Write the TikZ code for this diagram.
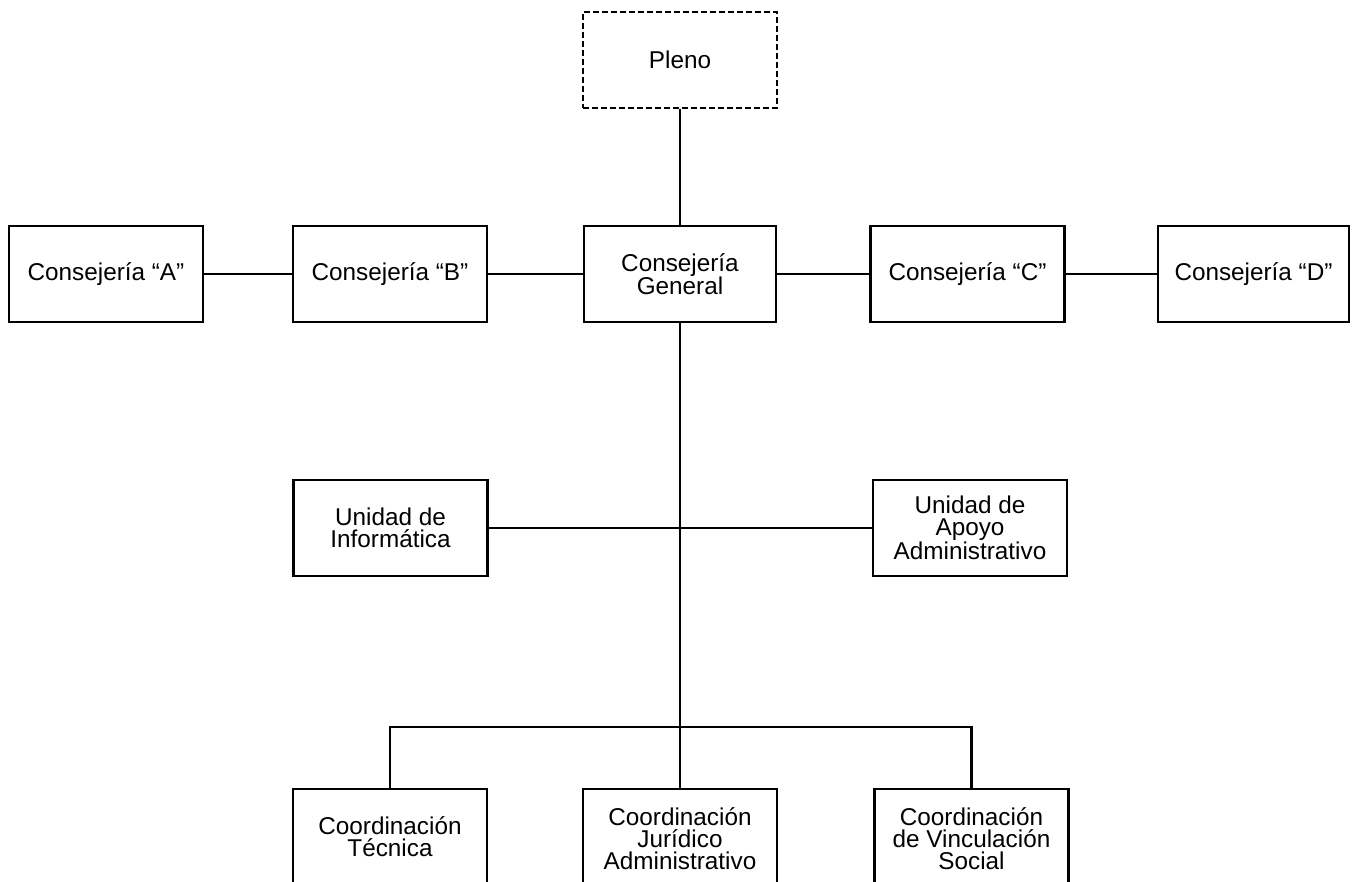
\documentclass[tikz,border=0pt]{standalone}
\usepackage{fontspec}
\setmainfont{Liberation Sans}
\begin{document}
\begin{tikzpicture}[x=1pt,y=-1pt,
  box/.style={draw, line width=2.2pt, minimum width=194pt, minimum height=96pt, inner sep=0pt, align=center, font=\fontsize{24.3}{22}\selectfont},
  tall/.style={box, minimum height=222pt},
  lbl/.style={align=center, inner sep=0pt, font=\fontsize{24.3}{22}\selectfont},
  conn/.style={line width=2.2pt}]
\useasboundingbox (0,0) rectangle (1353,882);
\clip (0,0) rectangle (1353,882);
% top
\node[box, dash pattern=on 6pt off 3pt] (pleno) at (680,60) {Pleno};
% row 1
\node[box] (ca) at (106,274) {Consejería “A”};
\node[box] (cb) at (390,274) {Consejería “B”};
\node[box, minimum width=192pt] (cg) at (680,274) {Consejería\\General};
\node[box] (cc) at (967.5,274) {Consejería “C”};
\node[box, minimum width=191pt] (cd) at (1253.5,274) {Consejería “D”};
% row 2
\node[box] (ui) at (390.5,528) {Unidad de\\Informática};
\node[box] (ua) at (970,528) {Unidad de\\Apoyo\\Administrativo};
% row 3 (cut off at bottom)
\node[tall] (ct) at (390,900) {};
\node[tall] (cj) at (680,900) {};
\node[tall] (cv) at (971.5,900) {};
\node[lbl] (tct) at (390,837) {Coordinación\\Técnica};
\node[lbl] (tcj) at (680,839) {Coordinación\\Jurídico\\Administrativo};
\node[lbl] (tcv) at (971.5,839) {Coordinación\\de Vinculación\\Social};
% connectors
\coordinate (bus) at (680,727);
\draw[conn] (pleno.south) -- (cg.north);
\draw[conn] (ca.east) -- (cb.west);
\draw[conn] (cb.east) -- (cg.west);
\draw[conn] (cg.east) -- (cc.west);
\draw[conn] (cc.east) -- (cd.west);
\draw[conn] (cg.south) -- (cj.north);
\draw[conn] (ui.east) -- (ua.west);
\draw[conn] (ct.north) |- (bus) -| (cv.north);
\end{tikzpicture}
\end{document}
